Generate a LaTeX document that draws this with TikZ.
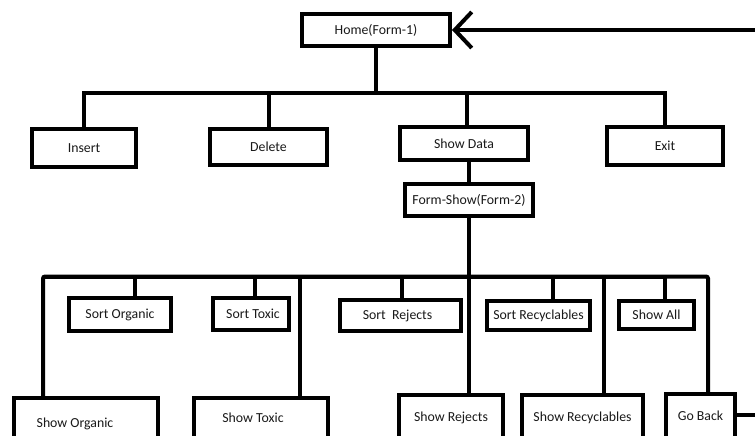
\documentclass[tikz,border=0pt]{standalone}
\usepackage{fontspec}
\setmainfont{Carlito}
\usetikzlibrary{arrows.meta}
\begin{document}
\begin{tikzpicture}[x=1pt,y=-1pt,
  box/.style={draw=black,line width=4pt,fill=white,inner sep=0pt,
    font=\fontsize{13.8}{16}\selectfont,text=black!90},
  botbox/.style={box,anchor=north,inner ysep=0pt,text depth=40pt},
  conn/.style={draw=black,line width=4pt,line join=miter}]
\useasboundingbox (0,0) rectangle (755,436);
\clip (0,0) rectangle (755,436);
% top level
\node[box,minimum width=148pt,minimum height=32pt] (home) at (376,30) {Home(Form-1)};
\node[box,minimum width=104pt,minimum height=38pt] (insert) at (84,148) {Insert};
\node[box,minimum width=117pt,minimum height=36pt] (delete) at (268.5,147) {Delete};
\node[box,minimum width=128pt,minimum height=33pt] (sdata) at (464,143.5) {Show Data};
\node[box,minimum width=116pt,minimum height=38pt] (exit) at (665,146) {Exit};
\node[box,minimum width=128pt,minimum height=32pt] (fshow) at (469,200) {Form-Show(Form-2)};
% sort row
\node[box,minimum width=102pt,minimum height=33pt] (sorg) at (120,314.5) {Sort Organic};
\node[box,minimum width=76pt,minimum height=32pt] (stox) at (251,314) {\hspace*{4pt}Sort Toxic};
\node[box,minimum width=121pt,minimum height=31pt] (srej) at (400.5,315.5) {Sort\ \ Rejects\hspace*{6pt}};
\node[box,minimum width=103pt,minimum height=29pt] (srec) at (538.5,315.5) {Sort Recyclables};
\node[box,minimum width=75pt,minimum height=28pt] (sall) at (656.5,315) {Show All};
% bottom row
\node[botbox,minimum width=144pt,text height=29pt] (shorg) at (86,396) {Show Organic\hspace*{22pt}};
\node[botbox,minimum width=134pt,text height=24pt] (shtox) at (261,396) {Show Toxic\hspace*{16pt}};
\node[botbox,minimum width=104pt,text height=26pt] (shrej) at (451,393) {Show Rejects};
\node[botbox,minimum width=121pt,text height=26pt] (shrec) at (582.5,393) {Show Recyclables};
\node[botbox,minimum width=69pt,text height=26pt] (goback) at (700.5,392) {Go Back};
% bus coordinates
\coordinate (busT) at (0,93);
\coordinate (L) at (43,276.5);
\coordinate (R) at (708,276.5);
\coordinate (ret) at (757,30);
\coordinate (gbend) at (757,415);
% top connectors
\draw[conn] (home.south) -- (home.south |- busT);
\draw[conn] (insert.north) |- (exit.north |- busT) -- (exit.north);
\draw[conn] (delete.north) -- (delete.north |- busT);
\draw[conn] ([xshift=3pt]sdata.north) -- ([xshift=3pt]sdata.north |- busT);
\draw[conn] (fshow.north) -- (fshow.north |- sdata.south);
% lower bus
\draw[conn,rounded corners=2pt] (L |- shorg.north) -- (L) -- (R) -- (R |- goback.north);
\draw[conn] (fshow.south) -- (fshow.south |- shrej.north);
\draw[conn] ([xshift=15pt]sorg.north) |- (L);
\draw[conn] ([xshift=4pt]stox.north) |- (L);
\draw[conn] ([xshift=1.5pt]srej.north) |- (L);
\draw[conn] ([xshift=14.5pt]srec.north) |- (L);
\draw[conn] ([xshift=8.5pt]sall.north) |- (L);
\draw[conn] ([xshift=39pt]shtox.north) |- (L);
\draw[conn] ([xshift=21.5pt]shrec.north) |- (L);
% return
\draw[conn] (goback.east |- gbend) -- (gbend);
\draw[conn,-{Straight Barb[length=17pt,width=36pt]}] (ret) -- (home.east);
\end{tikzpicture}
\end{document}
